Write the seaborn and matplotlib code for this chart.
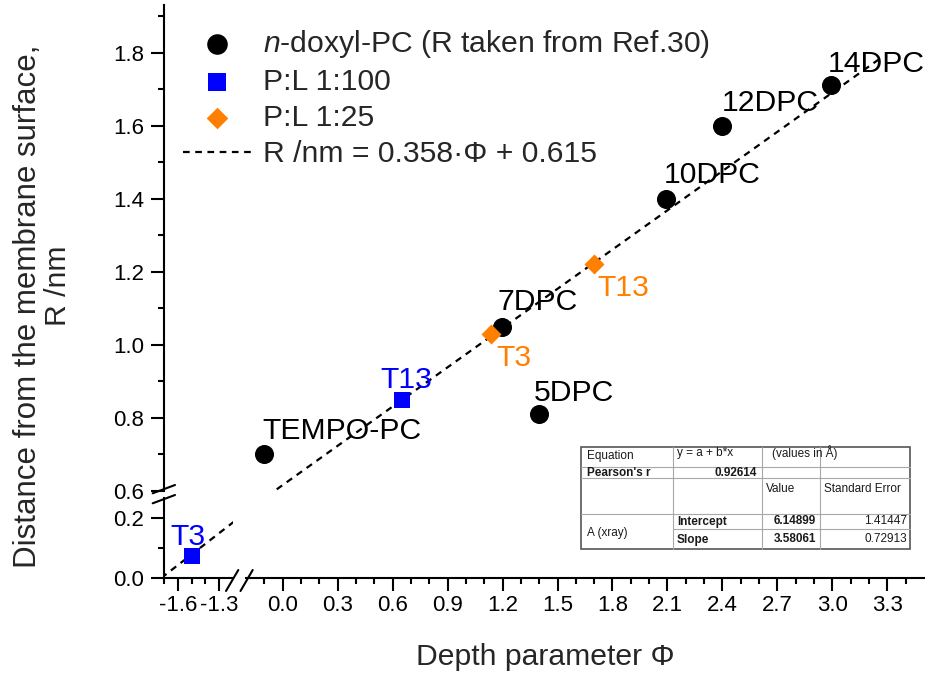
import numpy as np
import seaborn as sns
import matplotlib.pyplot as plt
from matplotlib.lines import Line2D
from matplotlib.patches import Rectangle
from matplotlib.ticker import FixedLocator, FormatStrFormatter

# values
dpc_names = ['TEMPO-PC', '5DPC', '7DPC', '10DPC', '12DPC', '14DPC']
dpc_phi = [-0.10, 1.40, 1.20, 2.09, 2.40, 2.99]
dpc_r = [0.70, 0.81, 1.05, 1.40, 1.60, 1.71]

pl100_names = ['T3', 'T13']
pl100_phi = [-1.50, 0.65]
pl100_r = [0.075, 0.85]

pl25_names = ['T3', 'T13']
pl25_phi = [1.14, 1.70]
pl25_r = [1.03, 1.22]

fit_phi = [-1.72, 3.25]
fit_r = [0.0, 1.78]

dpc_label = '$n$-doxyl-PC (R taken from Ref.30)'
pl100_label = 'P:L 1:100'
pl25_label = 'P:L 1:25'
fit_label = 'R /nm = 0.358·Φ + 0.615'

# fit report table
eq_row = ['Equation', 'y = a + b*x', '(values in Å)']
pearson_row = ["Pearson's r", '0.92614']
head_row = ['Value', 'Standard Error']
group_name = 'A (xray)'
param_names = ['Intercept', 'Slope']
param_values = ['6.14899', '3.58061']
param_errors = ['1.41447', '0.72913']

# label offsets in pixels (left edge, baseline)
dpc_off = [(-2, 15.5), (-5, 13.5), (-5, 16.5), (-2, 15.5), (-1, 14.5), (-3, 13.5)]
pl100_off = [(-21, 10.5), (-21, 11.5)]
pl25_off = [(5, -32.5), (3, -31.5)]

sns.set_theme(style='ticks')
plt.rcParams['font.family'] = ['Liberation Sans', 'DejaVu Sans']
plt.rcParams['mathtext.fontset'] = 'custom'
plt.rcParams['mathtext.rm'] = 'Liberation Sans'
plt.rcParams['mathtext.it'] = 'Liberation Sans:italic'
plt.rcParams['axes.unicode_minus'] = False

W, H = 925, 673
fig = plt.figure(figsize=(W / 100, H / 100), dpi=100)
big = 21.7


def fx(x):
    return x / W


def fy(y):
    return 1 - y / H


def box(x0, y0, x1, y1):
    return [fx(x0), fy(y1), (x1 - x0) / W, (y1 - y0) / H]


ax_top = fig.add_axes(box(164, 5, 924, 491))
ax_bl = fig.add_axes(box(164, 498, 233, 578))
ax_br = fig.add_axes(box(246, 498, 924, 578))

for ax in (ax_top, ax_bl, ax_br):
    ax.set_facecolor('none')
    for s in ax.spines.values():
        s.set_visible(False)
        s.set_linewidth(1.5)
        s.set_color('black')
    ax.tick_params(which='major', direction='out', length=9.5, width=1.5,
                   labelsize=16, color='black', labelcolor='black')
    ax.tick_params(which='minor', direction='out', length=4.5, width=1.5, color='black')
    ax.tick_params(axis='y', which='major', pad=4.8)
    ax.tick_params(axis='x', which='major', pad=3)

# top panel: only the y axis
ax_top.set_xlim(-0.647, 3.5)
ax_top.set_ylim(0.6, 1.93)
ax_top.spines['left'].set_visible(True)
ax_top.tick_params(axis='x', which='both', bottom=False, labelbottom=False)
ax_top.yaxis.set_major_locator(FixedLocator([0.6, 0.8, 1.0, 1.2, 1.4, 1.6, 1.8]))
ax_top.yaxis.set_minor_locator(FixedLocator([0.7, 0.9, 1.1, 1.3, 1.5, 1.7, 1.9]))
ax_top.yaxis.set_major_formatter(FormatStrFormatter('%.1f'))

# bottom left panel
ax_bl.set_xlim(-1.7, -1.2)
ax_bl.set_ylim(0, 0.268)
ax_bl.spines['left'].set_visible(True)
ax_bl.spines['bottom'].set_visible(True)
ax_bl.xaxis.set_major_locator(FixedLocator([-1.6, -1.3]))
ax_bl.xaxis.set_minor_locator(FixedLocator([-1.7, -1.5, -1.4]))
ax_bl.yaxis.set_major_locator(FixedLocator([0.0, 0.2]))
ax_bl.yaxis.set_minor_locator(FixedLocator([0.1]))
ax_bl.xaxis.set_major_formatter(FormatStrFormatter('%.1f'))
ax_bl.yaxis.set_major_formatter(FormatStrFormatter('%.1f'))

# bottom right panel: only the x axis
ax_br.set_xlim(-0.2, 3.5)
ax_br.set_ylim(0, 0.268)
ax_br.spines['bottom'].set_visible(True)
ax_br.tick_params(axis='y', which='both', left=False, labelleft=False)
majors = np.round(np.arange(0, 3.31, 0.3), 1)
minors = [m for m in np.round(np.arange(-0.1, 3.45, 0.1), 1) if not np.isclose(majors, m).any()]
ax_br.xaxis.set_major_locator(FixedLocator(majors))
ax_br.xaxis.set_minor_locator(FixedLocator(minors))
ax_br.xaxis.set_major_formatter(FormatStrFormatter('%.1f'))

# data on the two plotting panels, clipping takes care of the break
for ax in (ax_top, ax_bl):
    sns.lineplot(x=fit_phi, y=fit_r, ax=ax, color='black', lw=1.6,
                 linestyle=(0, (3, 2.5)), label=fit_label, legend=False, zorder=2)
    sns.scatterplot(x=dpc_phi, y=dpc_r, ax=ax, color='black', marker='o', s=188,
                    linewidth=0, label=dpc_label, legend=False, zorder=3)
    sns.scatterplot(x=pl100_phi, y=pl100_r, ax=ax, color='#0000FF', marker='s', s=144,
                    linewidth=0, label=pl100_label, legend=False, zorder=4)
    sns.scatterplot(x=pl25_phi, y=pl25_r, ax=ax, color='#FF8000', marker='D', s=104,
                    linewidth=0, label=pl25_label, legend=False, zorder=5)
    for names, xs, ys, offs, col in [(dpc_names, dpc_phi, dpc_r, dpc_off, 'black'),
                                     (pl100_names, pl100_phi, pl100_r, pl100_off, '#0000FF'),
                                     (pl25_names, pl25_phi, pl25_r, pl25_off, '#FF8000')]:
        for n, x, y, o in zip(names, xs, ys, offs):
            ax.annotate(n, (x, y), xytext=o, textcoords='offset pixels', ha='left',
                        va='baseline', fontsize=big, color=col, annotation_clip=True)
    ax.set_xlabel('')
    ax.set_ylabel('')

# legend
h, l = ax_top.get_legend_handles_labels()
order = [dpc_label, pl100_label, pl25_label, fit_label]
hh = [h[l.index(k)] for k in order]
ax_top.legend(hh, order, loc='upper left', bbox_to_anchor=(fx(183), fy(28)),
              bbox_transform=fig.transFigure, frameon=False, fontsize=big,
              handlelength=2.25, handletextpad=0.4, labelspacing=0.27,
              borderpad=0, borderaxespad=0, markerscale=1.08)

# axis labels
fig.text(fx(545), fy(657), 'Depth parameter Φ', ha='center', va='center', fontsize=big)
fig.text(fx(28), fy(306), 'Distance from the membrane surface,', ha='center',
         va='center', rotation=90, fontsize=22.5)
fig.text(fx(58), fy(286), 'R /nm', ha='center', va='center', rotation=90, fontsize=big)

# break marks
for (x0, y0, x1, y1) in [(152.7, 493.3, 175, 485), (152.7, 503.3, 175, 495),
                         (226, 591, 238.3, 570), (240.5, 591, 252.7, 570)]:
    fig.add_artist(Line2D([fx(x0), fx(x1)], [fy(y0), fy(y1)], color='black', lw=1.5,
                          transform=fig.transFigure))

# fit report table
tl, c1, c2, c3, tr = 581, 673, 762, 820, 910
tt, r1, r2, r3, r4, tb = 447, 466.7, 478.3, 514, 529.3, 549
grid = '#A8A8A8'
for x in (c1, c2, c3):
    fig.add_artist(Line2D([fx(x), fx(x)], [fy(tt), fy(tb)], color=grid, lw=0.8,
                          transform=fig.transFigure))
for y in (r1, r2, r3):
    fig.add_artist(Line2D([fx(tl), fx(tr)], [fy(y), fy(y)], color=grid, lw=0.8,
                          transform=fig.transFigure))
fig.add_artist(Line2D([fx(c1), fx(tr)], [fy(r4), fy(r4)], color=grid, lw=0.8,
                      transform=fig.transFigure))
fig.add_artist(Rectangle((fx(tl), fy(tb)), (tr - tl) / W, (tb - tt) / H, fill=False,
                         edgecolor='#555555', lw=1.2, transform=fig.transFigure))

tcol = '#1a1a1a'
tfs = 8.5


def cell(txt, x, y, ha='left', bold=False):
    fig.text(fx(x), fy(y), txt, ha=ha, va='center', fontsize=tfs, color=tcol,
             fontweight='bold' if bold else 'normal')


cell(eq_row[0], 587, 456)
cell(eq_row[1], 677, 453)
cell(eq_row[2], 772, 453)
cell(pearson_row[0], 587, 472.5, bold=True)
cell(pearson_row[1], 757, 472.5, ha='right', bold=True)
cell(head_row[0], 766, 489)
cell(head_row[1], 824, 489)
cell(group_name, 587, 533)
for i, yy in enumerate([521.5, 539.5]):
    cell(param_names[i], 677, yy, bold=True)
    cell(param_values[i], 816, yy, ha='right', bold=True)
    cell(param_errors[i], 907, yy, ha='right')

fig.savefig('out.png', dpi=100)
